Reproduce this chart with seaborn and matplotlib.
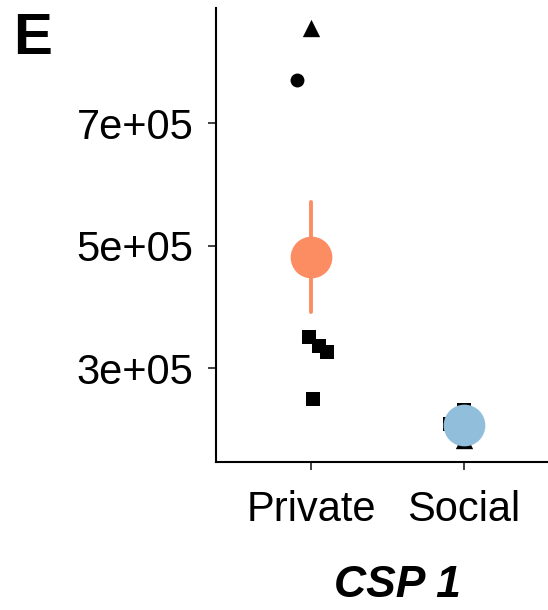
import numpy as np
import pandas as pd
import matplotlib
matplotlib.use("Agg")
import matplotlib.pyplot as plt
import seaborn as sns
from matplotlib.ticker import FuncFormatter

# ---- data ----
categories = ["Private", "Social"]
private_tri = [8.55e5]
private_circ = [7.70e5, 4.81e5]
private_sq = [3.51e5, 3.36e5, 3.26e5, 2.49e5]
social_tri = [1.82e5]
social_circ = []
social_sq = [2.31e5, 2.09e5]
y_ticks = [3e5, 5e5, 7e5]
colors = {"Private": "#FC8D62", "Social": "#91BFDB"}

rows = []
for v in private_tri:
    rows.append(("Private", v, "^"))
for v in private_circ:
    rows.append(("Private", v, "o"))
for v in private_sq:
    rows.append(("Private", v, "s"))
for v in social_tri:
    rows.append(("Social", v, "^"))
for v in social_circ:
    rows.append(("Social", v, "o"))
for v in social_sq:
    rows.append(("Social", v, "s"))
df = pd.DataFrame(rows, columns=["group", "value", "shape"])

sns.set_theme(style="ticks")
plt.rcParams["font.family"] = ["Liberation Sans", "DejaVu Sans"]
plt.rcParams["text.color"] = "black"
plt.rcParams["axes.labelcolor"] = "black"

fig = plt.figure(figsize=(5.48, 6.10), dpi=100)
ax = fig.add_axes([216 / 548, 1 - 462 / 610, 1 - 216 / 548, (462 - 8) / 610])

np.random.seed(7)
sizes = {"^": 12.5, "o": 10, "s": 10.5}
for shp, sub in df.groupby("shape"):
    sns.stripplot(data=sub, x="group", y="value", order=categories,
                  color="black", marker=shp, size=sizes[shp], jitter=0.11,
                  linewidth=0, ax=ax, zorder=2)

sns.pointplot(data=df, x="group", y="value", order=categories, hue="group",
              hue_order=categories, palette=colors, errorbar="se",
              markers="o", markersize=28, linestyle="none",
              err_kws={"linewidth": 2.8}, legend=False, ax=ax, zorder=3)

ax.set_xlim(-0.625, 1.55)
ax.set_ylim(1.465e5, 8.88e5)
ax.set_yticks(y_ticks)
ax.yaxis.set_major_formatter(FuncFormatter(lambda v, p: f"{v:.0e}"))
ax.set_ylabel("")
ax.set_xlabel("CSP 1", fontsize=32, fontweight="bold", fontstyle="italic",
              color="black")
ax.xaxis.set_label_coords(0.548, -0.226)

sns.despine(ax=ax)
for s in ["left", "bottom"]:
    ax.spines[s].set_linewidth(1.5)
    ax.spines[s].set_color("black")
ax.tick_params(axis="both", labelsize=30, length=6, width=1.3, color="#333333",
               labelcolor="black")
ax.tick_params(axis="y", pad=10)
ax.tick_params(axis="x", pad=14)

fig.text(13 / 548, 1 - 12 / 610, "E", fontsize=42, fontweight="bold",
         va="top", ha="left", color="black")

fig.savefig("out.png", dpi=100)
